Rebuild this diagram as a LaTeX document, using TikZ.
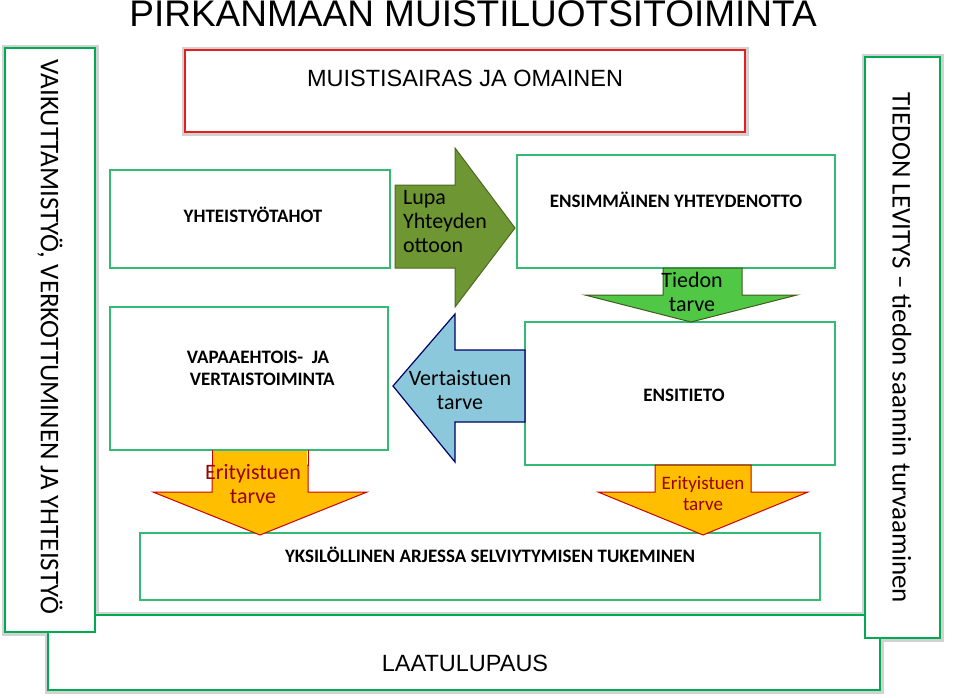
\documentclass[tikz,border=0pt]{standalone}
\usepackage{fontspec}
\setmainfont{Carlito}
\newfontfamily\arialfont{Liberation Sans}
\usetikzlibrary{positioning}

\definecolor{boxgreen}{RGB}{0,170,80}
\definecolor{boxred}{RGB}{230,30,30}
\definecolor{arrgreen}{RGB}{110,150,50}
\definecolor{arrlight}{RGB}{80,200,70}
\definecolor{arrblue}{RGB}{140,200,220}
\definecolor{arrorange}{RGB}{255,190,0}

\begin{document}
\begin{tikzpicture}[
    x=1pt, y=-1pt,
    glow/.style={draw=gray!35, line width=7pt},
    box/.style={draw=boxgreen, line width=1.4pt, fill=white},
    redbox/.style={draw=boxred, line width=1.6pt, fill=white},
    label/.style={font=\fontsize{19}{22}\selectfont\bfseries, align=center},
    biglabel/.style={font=\fontsize{27}{30}\selectfont, align=center},
    arrtext/.style={font=\fontsize{22}{24}\selectfont, align=center},
    ]
    \useasboundingbox (0,0) rectangle (960,697);

    % frame boxes
    \foreach \a/\b in {{5,48}/{95,632}, {865,57}/{940,638}, {48,615}/{880,690}, {185,50}/{745,132}} {
        \draw [glow] (\a) rectangle (\b);
    }
    \draw [box] (48,615) rectangle (880,690);
    \draw [box] (5,48) rectangle (95,632);
    \draw [box] (865,57) rectangle (940,638);
    \draw [redbox] (185,50) rectangle (745,132);

    \node (title) at (473,14) {\arialfont\fontsize{37}{40}\selectfont PIRKANMAAN MUISTILUOTSITOIMINTA};
    \node (vaik) [biglabel, rotate=-90] at (50,337) {VAIKUTTAMISTYÖ, VERKOTTUMINEN JA YHTEISTYÖ};
    \node (tiedon) [biglabel, rotate=-90] at (902,348) {TIEDON LEVITYS – tiedon saannin turvaaminen};
    \node (laatu) [biglabel] at (465,663) {\arialfont\fontsize{23.5}{26}\selectfont LAATULUPAUS};
    \node (muisti) [biglabel] at (465,78) {\arialfont\fontsize{23.5}{26}\selectfont MUISTISAIRAS JA OMAINEN};

    % inner boxes
    \draw [box, draw=boxgreen!80] (110,170) rectangle (390,268);
    \node (yht) [label] at (253,215) {YHTEISTYÖTAHOT};
    \draw [box, draw=boxgreen!80] (110,307) rectangle (388,450);
    \node (vapaa) [label] at (258,368) {VAPAAEHTOIS- \ JA\\ \ \ VERTAISTOIMINTA};
    \draw [box, draw=boxgreen!80] (517,155) rectangle (835,268);
    \node (ensim) [label] at (676,200) {ENSIMMÄINEN YHTEYDENOTTO};
    \draw [box, draw=boxgreen!80] (525,322) rectangle (835,465);
    \node (ensit) [label] at (684,395) {ENSITIETO};
    \draw [box, draw=boxgreen!80] (140,533) rectangle (820,600);

    % arrows
    \draw [fill=arrgreen, draw=arrgreen!70!black, line width=1pt]
        (395,185) -- (455,185) -- (455,148) -- (515,228) -- (455,307) -- (455,268) -- (395,268) -- cycle;
    \node (lupa) [arrtext, align=left] at (445,222) {Lupa\\Yhteyden\\ottoon};
    \draw [fill=arrblue, draw=blue!40!black, line width=1.2pt]
        (525,350) -- (455,350) -- (455,314) -- (393,386) -- (455,462) -- (455,422) -- (525,422) -- cycle;
    \node (vert) [arrtext] at (460,390) {Vertaistuen\\tarve};
    \draw [fill=arrlight, draw=arrgreen!60!black, line width=1pt]
        (663,268) -- (742,268) -- (742,295) -- (797,295) -- (691,322) -- (585,295) -- (663,295) -- cycle;
    \node (tied) [arrtext] at (692,292) {Tiedon\\tarve};
    \foreach \x/\w/\h/\n in {260/48/107/eri1, 703/48/105/eri2} {
        \draw [fill=arrorange, draw=red!80!black, line width=1pt]
            (\x-\w,465) -- (\x+\w,465) -- (\x+\w,492) -- (\x+\h,492) -- (\x,535) -- (\x-\h,492) -- (\x-\w,492) -- cycle;
    }
    \fill [arrorange] (213,451) rectangle (307,466);
    \draw [red!80!black, line width=1pt] (212,450) -- (212,466) (308,450) -- (308,466);
    \node (eri1) [arrtext, text=red!60!black] at (253,484) {Erityistuen\\tarve};
    \node (eri2) [arrtext, text=red!60!black, font=\fontsize{19}{21}\selectfont] at (703,494) {Erityistuen\\tarve};
    \node (yksil) [label] at (490,555) {YKSILÖLLINEN ARJESSA SELVIYTYMISEN TUKEMINEN};
\end{tikzpicture}
\end{document}
